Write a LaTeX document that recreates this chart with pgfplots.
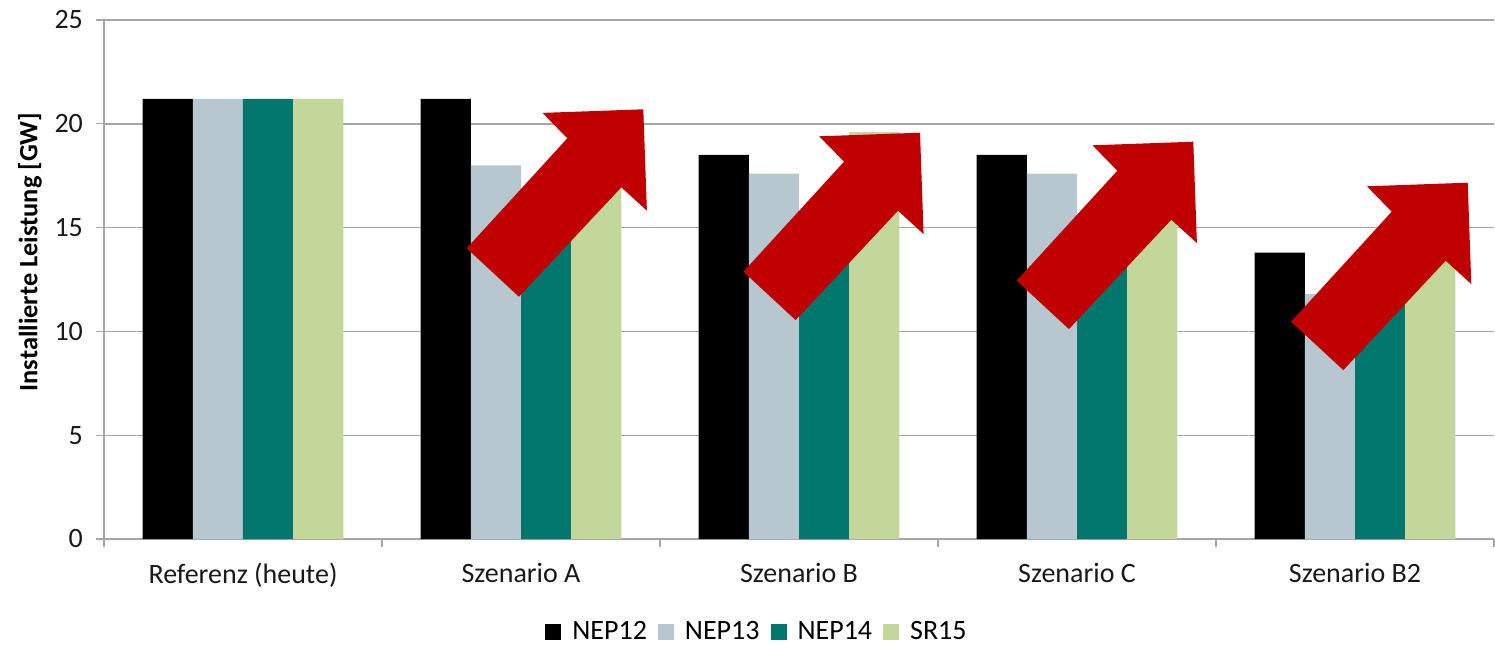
\documentclass[border=0pt]{standalone}
\usepackage{pgfplots}
\pgfplotsset{compat=1.18}
\usepackage{fontspec}
\setmainfont{Carlito}
\definecolor{cNEPa}{HTML}{000000}
\definecolor{cNEPb}{HTML}{B7C7CF}
\definecolor{cNEPc}{HTML}{00766C}
\definecolor{cSR}{HTML}{C4D79B}
\definecolor{cArrow}{HTML}{C00000}
\definecolor{cGrid}{HTML}{A6A6A6}
\begin{document}
\begin{tikzpicture}
\begin{axis}[
  at={(0,0)}, anchor=south west,
  scale only axis, width=695pt, height=259.5pt,
  ybar=0pt, bar width=25.1pt,
  xmin=-0.5, xmax=4.5, ymin=0, ymax=25,
  ytick={0,5,10,15,20,25},
  xtick={0,1,2,3,4},
  xticklabels={Referenz (heute),Szenario A,Szenario B,Szenario C,Szenario B2},
  minor xtick={-0.5,0.5,1.5,2.5,3.5,4.5},
  major x tick style={draw=none},
  minor tick length=4pt, major tick length=4pt,
  tick align=outside,
  tick style={cGrid, line width=0.6pt},
  axis x line*=bottom, axis y line*=left,
  axis line style={cGrid, line width=0.7pt, -},
  ymajorgrids, grid style={cGrid, line width=0.7pt},
  font=\fontsize{14}{16}\selectfont,
  tick label style={font=\fontsize{14}{16}\selectfont, text=black!90},
  /pgf/number format/assume math mode=true,
  xticklabel style={yshift=-4.5pt},
  yticklabel style={xshift=-3pt},
  ylabel={\bfseries Installierte Leistung [GW]},
  ylabel style={at={(axis description cs:-0.0532,0.553)}, anchor=center, rotate=0, font=\fontsize{13.2}{16}\selectfont},
  legend columns=4,
  legend style={at={(axis description cs:0.4705,-0.179)}, anchor=center, draw=none, fill=none,
    font=\fontsize{14}{16}\selectfont, column sep=3.5pt},
  legend image code/.code={\fill[#1] (0pt,-4pt) rectangle (8pt,4pt);},
]
\addplot[fill=cNEPa, draw=none] coordinates {(0,21.2) (1,21.2) (2,18.5) (3,18.5) (4,13.8)};
\addplot[fill=cNEPb, draw=none] coordinates {(0,21.2) (1,18.0) (2,17.6) (3,17.6) (4,11.8)};
\addplot[fill=cNEPc, draw=none] coordinates {(0,21.2) (1,15.4) (2,15.4) (3,15.4) (4,11.3)};
\addplot[fill=cSR, draw=none] coordinates {(0,21.2) (1,20.3) (2,19.6) (3,18.8) (4,16.8)};
\legend{NEP12,NEP13,NEP14,SR15}
\end{axis}
\foreach \tx/\ty in {269.65/214.85, 408/203.15, 544.65/198.65, 681.85/178.15}{
  \fill[cArrow] (\tx pt,\ty pt) ++(-88.3pt,-69.5pt) -- (\tx pt-62.2pt,\ty pt-93.7pt)
    -- (\tx pt-11pt,\ty pt-39pt) -- (\tx pt+1.8pt,\ty pt-50.7pt) -- (\tx pt,\ty pt)
    -- (\tx pt-50.4pt,\ty pt-1.8pt) -- (\tx pt-38pt,\ty pt-14.5pt) -- cycle;
}
\pgfresetboundingbox
\path (-52pt,-53pt) rectangle (695.5pt,269.5pt);
\end{tikzpicture}
\end{document}
